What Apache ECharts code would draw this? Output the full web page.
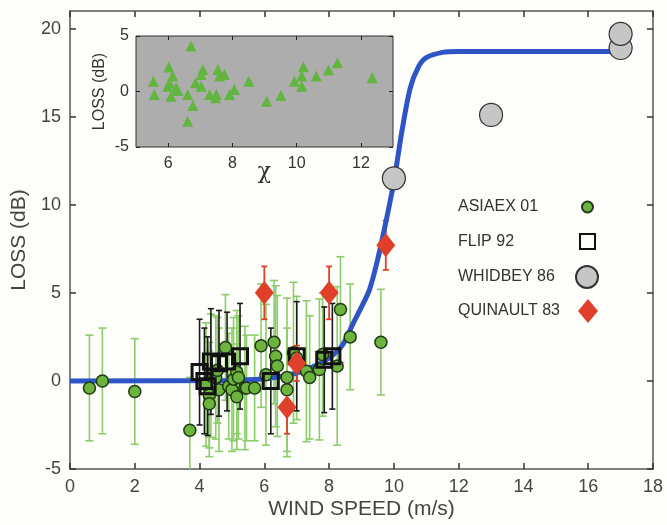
<!DOCTYPE html>
<html>
<head>
<meta charset="utf-8">
<script src="https://cdn.jsdelivr.net/npm/echarts@6/dist/echarts.min.js"></script>
<style>
html, body { margin: 0; padding: 0; background: #fdfdfa; }
#main { width: 667px; height: 525px; }
</style>
</head>
<body>
<div id="main"></div>
<script>
// ASIAEX 01 (green dots with error bars)
var asiaX = [0.6, 1.0, 2.0, 3.7, 4.2, 4.3, 4.3, 4.35, 4.5, 4.55, 4.6, 4.8, 4.9, 5.0, 5.05, 5.15, 5.15, 5.2, 5.4, 5.45, 5.7, 5.9, 6.05, 6.3, 6.35, 6.4, 6.7, 6.7, 6.9, 7.0, 7.3, 7.4, 7.7, 7.8, 8.25, 8.35, 8.65, 9.6];
var asiaY = [-0.4, 0.0, -0.6, -2.8, -0.2, -0.8, -1.3, 0.3, 0.2, 0.6, -0.5, 1.9, -0.3, -0.5, 0.1, 0.5, -0.9, 0.2, -0.4, -0.4, -0.4, 2.0, 0.35, 2.2, 1.4, 0.85, 0.2, -0.5, 1.6, 1.3, 0.55, 0.2, 0.65, 1.5, 0.85, 4.05, 2.5, 2.2];
var asiaErr = [3.0, 3.0, 3.0, 3.0, 3.5, 3.0, 3.0, 3.5, 3.5, 3.0, 3.5, 3.0, 3.0, 3.5, 3.5, 3.5, 3.0, 3.5, 3.5, 3.0, 3.0, 3.5, 4.0, 3.5, 4.0, 4.0, 4.5, 3.5, 4.0, 3.5, 4.0, 3.5, 4.0, 3.5, 4.5, 3.0, 3.0, 3.0];

// FLIP 92 (open squares)
var flipX = [4.0, 4.15, 4.25, 4.35, 4.6, 4.85, 5.25, 6.2, 7.0, 7.85, 8.1];
var flipY = [0.5, 0.0, -0.3, 1.1, 1.0, 1.1, 1.4, 0.0, 1.4, 1.2, 1.4];
var flipErr = [3.0, 3.0, 2.8, 3.0, 3.0, 2.8, 3.0, 3.0, 3.1, 3.0, 3.0];

// WHIDBEY 86 (grey circles, no error bars)
var whidX = [10.0, 13.0, 17.0, 17.0];
var whidY = [11.5, 15.1, 18.9, 19.7];

// QUINAULT 83 (red diamonds)
var quinX = [6.0, 6.7, 7.0, 8.0, 9.75];
var quinY = [5.0, -1.5, 1.0, 5.0, 7.7];
var quinErr = [1.5, 1.5, 1.0, 1.5, 1.4];

// model curve
var curveX = [0, 5, 6, 6.5, 7, 7.5, 8, 8.4, 8.75, 9, 9.25, 9.5, 9.75, 10, 10.25, 10.5, 10.75, 11, 11.5, 12, 16.7];
var curveY = [0, 0.03, 0.12, 0.25, 0.45, 0.8, 1.3, 2.0, 3.3, 4.2, 5.2, 6.9, 9.0, 11.3, 14.2, 16.6, 17.8, 18.35, 18.65, 18.7, 18.7];

// inset: loss vs chi
var chiX = [6.71, 6.02, 5.54, 5.57, 6.14, 6.04, 5.99, 6.25, 6.3, 6.09, 6.61, 6.77, 6.61, 6.85, 7.03, 7.08, 7.03, 7.29, 7.47, 7.5, 7.55, 7.6, 7.75, 7.91, 8.06, 8.51, 9.07, 9.51, 9.93, 10.16, 10.16, 10.21, 10.61, 10.99, 11.27, 12.35];
var chiY = [4.1, 2.2, 0.93, -0.27, 1.39, 0.78, 0.48, 0.33, 0.1, -0.42, -0.27, -1.26, -2.68, 0.78, 1.54, 1.99, 0.48, -0.27, -0.57, -0.27, 1.99, 1.39, 1.54, -0.27, 0.18, 0.93, -0.87, -0.36, 0.93, 0.48, 1.39, 2.23, 1.39, 1.93, 2.59, 1.24];

var mainXTicks = [0, 2, 4, 6, 8, 10, 12, 14, 16, 18];
var mainYTicks = [-5, 0, 5, 10, 15, 20];
var insetXTicks = [6, 8, 10, 12];
var insetYTicks = [-5, 0, 5];

function zip(a, b) {
    var out = [];
    for (var i = 0; i < a.length; i++) out.push([a[i], b[i]]);
    return out;
}
function errData(xs, ys, es) {
    var out = [];
    for (var i = 0; i < xs.length; i++) out.push([xs[i], ys[i] - es[i], ys[i] + es[i]]);
    return out;
}
function errRender(color, cap, lw) {
    return function (params, api) {
        var lo = api.coord([api.value(0), api.value(1)]);
        var hi = api.coord([api.value(0), api.value(2)]);
        var st = { stroke: color, lineWidth: lw };
        return {
            type: 'group',
            children: [
                { type: 'line', shape: { x1: lo[0], y1: lo[1], x2: hi[0], y2: hi[1] }, style: st },
                { type: 'line', shape: { x1: lo[0] - cap, y1: lo[1], x2: lo[0] + cap, y2: lo[1] }, style: st },
                { type: 'line', shape: { x1: hi[0] - cap, y1: hi[1], x2: hi[0] + cap, y2: hi[1] }, style: st }
            ]
        };
    };
}

var font = 'Liberation Sans';
var axisCol = '#555';
var mainLine = { onZero: false, lineStyle: { color: axisCol, width: 1.5 } };
var insetLine = { show: false, onZero: false };

function legendItem(name, top, right, w, h, textW) {
    return {
        data: [name],
        top: top,
        right: right,
        align: 'right',
        padding: 0,
        itemWidth: w,
        itemHeight: h,
        selectedMode: false,
        formatter: '{a|{name}}',
        textStyle: {
            fontFamily: font, fontSize: 16, color: '#333',
            rich: { a: { width: textW, align: 'left', fontFamily: font, fontSize: 16, color: '#333' } }
        }
    };
}

var myChart = echarts.init(document.getElementById('main'));

var option = {
    backgroundColor: '#fdfdfa',
    animation: false,
    grid: [
        { left: 70, right: 14, top: 11, bottom: 54 },
        { left: 136, top: 36, width: 257, height: 111, show: true, backgroundColor: '#adadad', borderColor: '#333', borderWidth: 1 }
    ],
    legend: [
        legendItem('ASIAEX 01', 199, 73, 11, 11, 119),
        legendItem('FLIP 92', 233, 71, 15, 15, 117),
        legendItem('WHIDBEY 86', 265, 68, 22, 22, 113),
        legendItem('QUINAULT 83', 299, 69, 20, 24, 115)
    ],
    xAxis: [
        {
            gridIndex: 0, type: 'value', min: 0, max: 18, interval: 2,
            name: 'WIND SPEED (m/s)', nameLocation: 'middle', nameGap: 30, nameMoveOverlap: false,
            nameTextStyle: { fontFamily: font, fontSize: 21, color: '#444' },
            axisLine: mainLine,
            axisTick: { show: true, inside: true, length: 6, lineStyle: { color: '#333', width: 1.5 } },
            axisLabel: { fontFamily: font, fontSize: 18, color: '#444', margin: 9 },
            splitLine: { show: false }
        },
        {
            gridIndex: 0, type: 'value', min: 0, max: 18, interval: 2, position: 'top',
            axisLine: mainLine,
            axisTick: { show: true, inside: true, length: 6, lineStyle: { color: '#333', width: 1.5 } },
            axisLabel: { show: false }, splitLine: { show: false }
        },
        {
            gridIndex: 1, type: 'value', min: 5, max: 13,
            name: 'χ', nameLocation: 'middle', nameGap: 14, nameMoveOverlap: false,
            nameTextStyle: { fontFamily: 'DejaVu Serif', fontSize: 22, color: '#333' },
            axisLine: insetLine,
            axisTick: { show: true, inside: true, length: 4, lineStyle: { color: '#222' }, customValues: insetXTicks },
            axisLabel: { fontFamily: font, fontSize: 16, color: '#333', margin: 9, customValues: insetXTicks },
            splitLine: { show: false }
        },
        {
            gridIndex: 1, type: 'value', min: 5, max: 13, position: 'top',
            axisLine: insetLine,
            axisTick: { show: true, inside: true, length: 4, lineStyle: { color: '#222' }, customValues: insetXTicks },
            axisLabel: { show: false }, splitLine: { show: false }
        }
    ],
    yAxis: [
        {
            gridIndex: 0, type: 'value', min: -5, max: 21,
            name: 'LOSS (dB)', nameLocation: 'middle', nameGap: 40, nameMoveOverlap: false,
            nameTextStyle: { fontFamily: font, fontSize: 21, color: '#444' },
            axisLine: mainLine,
            axisTick: { show: true, inside: true, length: 6, lineStyle: { color: '#333', width: 1.5 }, customValues: mainYTicks },
            axisLabel: { fontFamily: font, fontSize: 18, color: '#444', margin: 9, customValues: mainYTicks },
            splitLine: { show: false }
        },
        {
            gridIndex: 0, type: 'value', min: -5, max: 21, position: 'right',
            axisLine: mainLine,
            axisTick: { show: true, inside: true, length: 6, lineStyle: { color: '#333', width: 1.5 }, customValues: mainYTicks },
            axisLabel: { show: false }, splitLine: { show: false }
        },
        {
            gridIndex: 1, type: 'value', min: -5, max: 5, interval: 5,
            name: 'LOSS (dB)', nameLocation: 'middle', nameGap: 28, nameMoveOverlap: false,
            nameTextStyle: { fontFamily: font, fontSize: 16, color: '#333' },
            axisLine: insetLine,
            axisTick: { show: true, inside: true, length: 4, lineStyle: { color: '#222' } },
            axisLabel: { fontFamily: font, fontSize: 16, color: '#333', margin: 7, customValues: insetYTicks },
            splitLine: { show: false }
        },
        {
            gridIndex: 1, type: 'value', min: -5, max: 5, interval: 5, position: 'right',
            axisLine: insetLine,
            axisTick: { show: true, inside: true, length: 4, lineStyle: { color: '#222' } },
            axisLabel: { show: false }, splitLine: { show: false }
        }
    ],
    series: [
        {
            name: 'asiaErr', type: 'custom', xAxisIndex: 0, yAxisIndex: 0, z: 1, clip: true,
            renderItem: errRender('#8dcc6c', 4, 1.6),
            encode: { x: 0, y: [1, 2] },
            data: errData(asiaX, asiaY, asiaErr)
        },
        {
            name: 'flipErr', type: 'custom', xAxisIndex: 0, yAxisIndex: 0, z: 2, clip: true,
            renderItem: errRender('#1a1a1a', 3, 1.6),
            encode: { x: 0, y: [1, 2] },
            data: errData(flipX, flipY, flipErr)
        },
        {
            name: 'quinErr', type: 'custom', xAxisIndex: 0, yAxisIndex: 0, z: 2, clip: true,
            renderItem: errRender('#e0402a', 3, 1.8),
            encode: { x: 0, y: [1, 2] },
            data: errData(quinX, quinY, quinErr)
        },
        {
            name: 'model', type: 'line', xAxisIndex: 0, yAxisIndex: 0, z: 3,
            smooth: 0.3, showSymbol: false, symbol: 'none',
            lineStyle: { color: '#2d55c5', width: 5 },
            data: zip(curveX, curveY)
        },
        {
            name: 'ASIAEX 01', type: 'scatter', xAxisIndex: 0, yAxisIndex: 0, z: 4,
            symbol: 'circle', symbolSize: 12,
            itemStyle: { color: '#6db43e', borderColor: '#1f3a14', borderWidth: 1.5, opacity: 1 },
            data: zip(asiaX, asiaY)
        },
        {
            name: 'FLIP 92', type: 'scatter', xAxisIndex: 0, yAxisIndex: 0, z: 5,
            symbol: 'rect', symbolSize: 15,
            itemStyle: { color: 'rgba(255,255,255,0)', borderColor: '#111', borderWidth: 3, opacity: 1 },
            data: zip(flipX, flipY)
        },
        {
            name: 'QUINAULT 83', type: 'scatter', xAxisIndex: 0, yAxisIndex: 0, z: 6,
            symbol: 'diamond', symbolSize: [19, 24],
            itemStyle: { color: '#e0402a', opacity: 1 },
            data: zip(quinX, quinY)
        },
        {
            name: 'WHIDBEY 86', type: 'scatter', xAxisIndex: 0, yAxisIndex: 0, z: 6,
            symbol: 'circle', symbolSize: 23,
            itemStyle: { color: '#c6c6c6', borderColor: '#333', borderWidth: 1.2, opacity: 1 },
            data: zip(whidX, whidY)
        },
        {
            name: 'chi', type: 'scatter', xAxisIndex: 2, yAxisIndex: 2, z: 4,
            symbol: 'triangle', symbolSize: 11,
            itemStyle: { color: '#62b53f', opacity: 1 },
            data: zip(chiX, chiY)
        }
    ]
};

myChart.setOption(option);
</script>
</body>
</html>
